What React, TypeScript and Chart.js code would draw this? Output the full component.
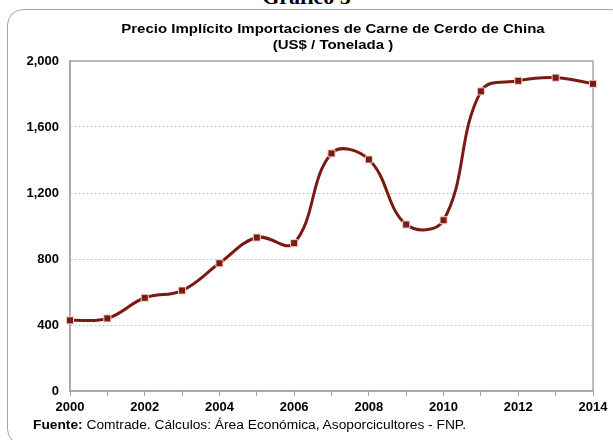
import React, { useEffect, useRef } from "react";
import { Chart, registerables } from "chart.js";

Chart.register(...registerables);

const years = [2000, 2001, 2002, 2003, 2004, 2005, 2006, 2007, 2008, 2009, 2010, 2011, 2012, 2013, 2014];
const prices = [428, 440, 565, 609, 774, 930, 896, 1440, 1403, 1009, 1035, 1816, 1880, 1899, 1862];
const yTicks = [0, 400, 800, 1200, 1600, 2000];
const xLabelYears = [2000, 2002, 2004, 2006, 2008, 2010, 2012, 2014];

const frameTitle = "Gráfico 5";
const titleLines = ["Precio Implícito Importaciones de Carne de Cerdo de China", "(US$ / Tonelada )"];
const sourceLabel = "Fuente:";
const sourceText = " Comtrade. Cálculos: Área Económica, Asoporcicultores - FNP.";

const FONT = "Arial, 'Liberation Sans', sans-serif";

const plotBorder = {
  id: "plotBorder",
  beforeDatasetsDraw(chart: any) {
    const { ctx, chartArea } = chart;
    ctx.save();
    ctx.strokeStyle = "#a6a6a6";
    ctx.lineWidth = 1.5;
    ctx.strokeRect(chartArea.left, chartArea.top, chartArea.right - chartArea.left, chartArea.bottom - chartArea.top);
    ctx.restore();
  },
};

export default function App() {
  const ref = useRef<HTMLCanvasElement | null>(null);

  useEffect(() => {
    document.body.style.margin = "0";
    const chart = new Chart(ref.current as HTMLCanvasElement, {
      type: "line",
      data: {
        datasets: [
          {
            data: years.map((y, i) => ({ x: y, y: prices[i] })),
            borderColor: "#7a1a12",
            borderWidth: 3,
            tension: 0.4,
            pointStyle: "rect",
            pointRadius: 5,
            pointBackgroundColor: "#7f1a10",
            pointBorderColor: "#ead6d2",
            pointBorderWidth: 1,
            fill: false,
            clip: false,
          },
        ],
      },
      options: {
        animation: false,
        responsive: false,
        devicePixelRatio: 1,
        layout: { padding: { left: 14, right: 20, top: 61, bottom: 24 } },
        plugins: {
          legend: { display: false },
          tooltip: { enabled: false },
          title: { display: false },
        },
        scales: {
          x: {
            type: "linear",
            min: 2000,
            max: 2014,
            afterBuildTicks: (s: any) => {
              s.ticks = years.map((v) => ({ value: v }));
            },
            afterFit: (s: any) => {
              s.height = 25;
            },
            ticks: {
              autoSkip: false,
              maxRotation: 0,
              padding: 4,
              color: "#000",
              font: { family: FONT, size: 13, weight: "bold" },
              callback: (v: any) => (xLabelYears.includes(Number(v)) ? String(v) : ""),
            },
            grid: {
              drawOnChartArea: false,
              drawTicks: true,
              tickLength: 5,
              color: "#a6a6a6",
              lineWidth: 1,
            },
            border: { color: "#a6a6a6", width: 1.5 },
          },
          y: {
            min: 0,
            max: 2000,
            afterBuildTicks: (s: any) => {
              s.ticks = yTicks.map((v) => ({ value: v }));
            },
            afterFit: (s: any) => {
              s.width = 56;
            },
            ticks: {
              padding: 11,
              color: "#000",
              font: { family: FONT, size: 13, weight: "bold" },
              callback: (v: any) => Number(v).toLocaleString("en-US"),
            },
            grid: {
              drawTicks: false,
              color: "#c4c4c4",
              lineWidth: 1,
            },
            border: { color: "#a6a6a6", width: 1.5, dash: [2, 2] },
          },
        },
      },
      plugins: [plotBorder],
    } as any);
    return () => chart.destroy();
  }, []);

  return (
    <div style={{ position: "relative", width: 613, height: 440, overflow: "hidden", background: "#fff" }}>
      <div
        style={{
          position: "absolute",
          left: 0,
          width: 613,
          top: -14,
          textAlign: "center",
          fontFamily: "'Liberation Serif', 'DejaVu Serif', serif",
          fontWeight: "bold",
          fontSize: 22,
          lineHeight: "22px",
        }}
      >
        {frameTitle}
      </div>
      <div
        style={{
          position: "absolute",
          left: 7,
          top: 9,
          width: 620,
          height: 436,
          border: "1.5px solid #a6a6a6",
          borderRadius: 16,
          boxSizing: "border-box",
        }}
      />
      <canvas ref={ref} width={613} height={440} style={{ position: "absolute", left: 0, top: 0 }} />
      <div
        style={{
          position: "absolute",
          left: 0,
          width: 666,
          top: 21,
          textAlign: "center",
          fontFamily: FONT,
          fontWeight: "bold",
          fontSize: 12.5,
          lineHeight: "16px",
          transform: "scaleX(1.2)",
          transformOrigin: "333px 0",
        }}
      >
        {titleLines.map((t, i) => (
          <div key={i}>{t}</div>
        ))}
      </div>
      <div
        style={{
          position: "absolute",
          left: 33,
          top: 417,
          fontFamily: FONT,
          fontSize: 12.5,
          lineHeight: "16px",
          whiteSpace: "nowrap",
          transform: "scaleX(1.1)",
          transformOrigin: "0 0",
        }}
      >
        <b>{sourceLabel}</b>
        {sourceText}
      </div>
    </div>
  );
}
